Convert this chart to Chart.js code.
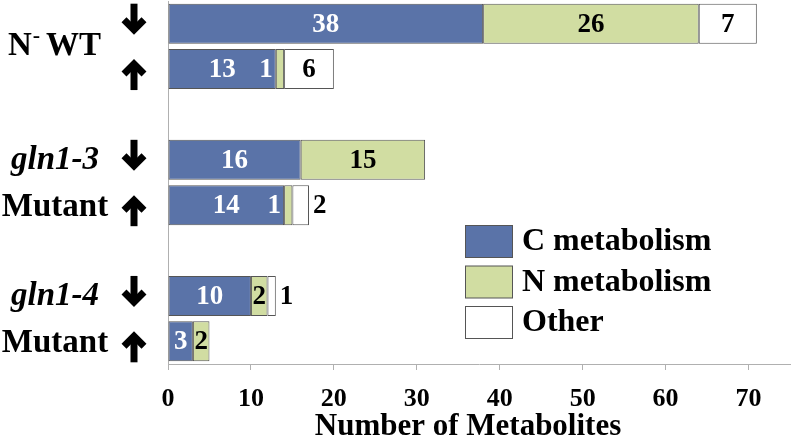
<!DOCTYPE html>
<html>
<head>
<meta charset="utf-8">
<script src="https://cdn.jsdelivr.net/npm/chart.js@4.4.1/dist/chart.umd.min.js"></script>
<style>
    body { margin: 0; background: #fff; }
    canvas { display: block; }
</style>
</head>
<body>
<canvas id="myChart" width="792" height="444"></canvas>
<script>
// rows: each strain has a "down" bar then an "up" bar
var rowNames = ["N- WT down", "N- WT up", "gln1-3 down", "gln1-3 up", "gln1-4 down", "gln1-4 up"];
var cMetabolism = [38, 13, 16, 14, 10, 3];
var nMetabolism = [26, 1, 15, 1, 2, 2];
var otherMetab = [7, 6, 0, 2, 1, 0];
var seriesNames = ["C metabolism", "N metabolism", "Other"];
var xTickValues = [0, 10, 20, 30, 40, 50, 60, 70];
var groupLine1 = ["N- WT", "gln1-3", "gln1-4"];
var groupLine2 = ["", "Mutant", "Mutant"];
var xTitle = "Number of Metabolites";

var barColors = ["#5a73a8", "#d1dda2", "#ffffff"];
var serif = '"Liberation Serif", "Times New Roman", serif';

// put an empty slot between each pair of bars
var slotLabels = [];
var slotRow = [];
rowNames.map(function (name, i) {
    slotLabels.push(name);
    slotRow.push(i);
    if (i % 2 === 1 && i < rowNames.length - 1) {
        slotLabels.push("");
        slotRow.push(-1);
    }
});
function toSlots(arr) {
    return slotRow.map(function (r) { return r < 0 ? null : arr[r]; });
}

var valueLabels = {
    id: "valueLabels",
    afterDatasetsDraw: function (chart) {
        var ctx = chart.ctx;
        ctx.save();
        ctx.font = "bold 27px " + serif;
        ctx.textBaseline = "middle";
        chart.data.datasets.forEach(function (ds, di) {
            var meta = chart.getDatasetMeta(di);
            meta.data.forEach(function (el, i) {
                var v = ds.data[i];
                if (!v) return;
                var p = el.getProps(["x", "y", "base"], true);
                var w = p.x - p.base;
                var y = p.y + 1;
                if (di === 0 || (di === 1 && w >= 12) || (di === 2 && w >= 20)) {
                    ctx.textAlign = "center";
                    ctx.fillStyle = di === 0 ? "#fff" : "#000";
                    ctx.fillText(v, (p.x + p.base) / 2, y);
                } else if (di === 1) {
                    // too thin: sits inside the blue part, just left of it
                    ctx.textAlign = "right";
                    ctx.fillStyle = "#fff";
                    ctx.fillText(v, p.base - 3, y);
                } else {
                    ctx.textAlign = "left";
                    ctx.fillStyle = "#000";
                    ctx.fillText(v, p.x + 4, y);
                }
            });
        });
        ctx.restore();
    }
};

function drawArrow(ctx, cx, cy, up) {
    var d = up ? -1 : 1;
    ctx.save();
    ctx.strokeStyle = "#000";
    ctx.lineWidth = 7;
    ctx.lineJoin = "miter";
    ctx.lineCap = "butt";
    ctx.beginPath();
    ctx.moveTo(cx, cy - d * 15);
    ctx.lineTo(cx, cy + d * 11);
    ctx.stroke();
    ctx.beginPath();
    ctx.moveTo(cx - 10, cy + d * 1);
    ctx.lineTo(cx, cy + d * 11);
    ctx.lineTo(cx + 10, cy + d * 1);
    ctx.stroke();
    ctx.restore();
}

var sideLabels = {
    id: "sideLabels",
    afterDraw: function (chart) {
        var ctx = chart.ctx;
        var ys = chart.scales.y;
        ctx.save();
        ctx.fillStyle = "#000";
        ctx.textBaseline = "middle";
        groupLine1.map(function (txt, g) {
            var downY = ys.getPixelForValue(slotRow.indexOf(g * 2));
            var upY = ys.getPixelForValue(slotRow.indexOf(g * 2 + 1));
            drawArrow(ctx, 134, downY - 5, false);
            drawArrow(ctx, 134, upY + 6, true);
            if (groupLine2[g] === "") {
                // N- WT with superscript minus
                var midY = (downY + upY) / 2;
                ctx.textAlign = "left";
                ctx.font = "bold 33px " + serif;
                ctx.fillText("N", 8, midY);
                var nw = ctx.measureText("N").width;
                ctx.font = "bold 22px " + serif;
                ctx.fillText("-", 8 + nw + 1, midY - 10);
                ctx.font = "bold 33px " + serif;
                ctx.fillText("WT", 46, midY);
            } else {
                ctx.textAlign = "center";
                ctx.font = "italic bold 33px " + serif;
                ctx.fillText(txt, 55, downY + 1);
                ctx.font = "bold 33px " + serif;
                ctx.fillText(groupLine2[g], 55, upY + 2);
            }
        });
        // axis title, a little left of the plot centre as in the original
        ctx.textAlign = "center";
        ctx.textBaseline = "alphabetic";
        ctx.font = "bold 31px " + serif;
        ctx.fillText(xTitle, 468, 435);
        ctx.restore();
    }
};

var boxLegend = {
    id: "boxLegend",
    afterDraw: function (chart) {
        var ctx = chart.ctx;
        ctx.save();
        ctx.font = "bold 32px " + serif;
        ctx.textAlign = "left";
        ctx.textBaseline = "middle";
        chart.data.datasets.forEach(function (ds, di) {
            var top = 225 + di * 40.5;
            ctx.fillStyle = ds.backgroundColor;
            ctx.fillRect(465.5, top + 0.5, 47, 32);
            ctx.strokeStyle = "#555";
            ctx.lineWidth = 1;
            ctx.strokeRect(465.5, top + 0.5, 47, 32);
            ctx.fillStyle = "#000";
            ctx.fillText(ds.label, 522, top + 17);
        });
        ctx.restore();
    }
};

new Chart("myChart", {
    type: "bar",
    data: {
        labels: slotLabels,
        datasets: [cMetabolism, nMetabolism, otherMetab].map(function (arr, i) {
            return {
                label: seriesNames[i],
                data: toSlots(arr),
                backgroundColor: barColors[i],
                borderColor: "#555",
                borderWidth: 1,
                borderSkipped: false,
                barPercentage: 0.88,
                categoryPercentage: 1.0
            };
        })
    },
    options: {
        indexAxis: "y",
        responsive: false,
        animation: false,
        devicePixelRatio: 1,
        layout: { padding: { left: 0, right: 2, top: 1, bottom: 0 } },
        plugins: {
            legend: { display: false },
            tooltip: { enabled: false }
        },
        scales: {
            y: {
                stacked: true,
                grid: { display: false },
                ticks: { display: false },
                border: { color: "#b0b0b0" },
                afterFit: function (s) { s.width = 168; }
            },
            x: {
                stacked: true,
                min: 0,
                max: 75,
                afterBuildTicks: function (s) {
                    s.ticks = xTickValues.map(function (v) { return { value: v }; });
                },
                ticks: {
                    color: "#000",
                    padding: 14,
                    font: { family: serif, size: 26, weight: "bold" }
                },
                grid: { drawOnChartArea: false, tickLength: 6, color: "#b0b0b0" },
                border: { color: "#b0b0b0" },
                afterFit: function (s) { s.height = 80; }
            }
        }
    },
    plugins: [valueLabels, sideLabels, boxLegend]
});
</script>
</body>
</html>
